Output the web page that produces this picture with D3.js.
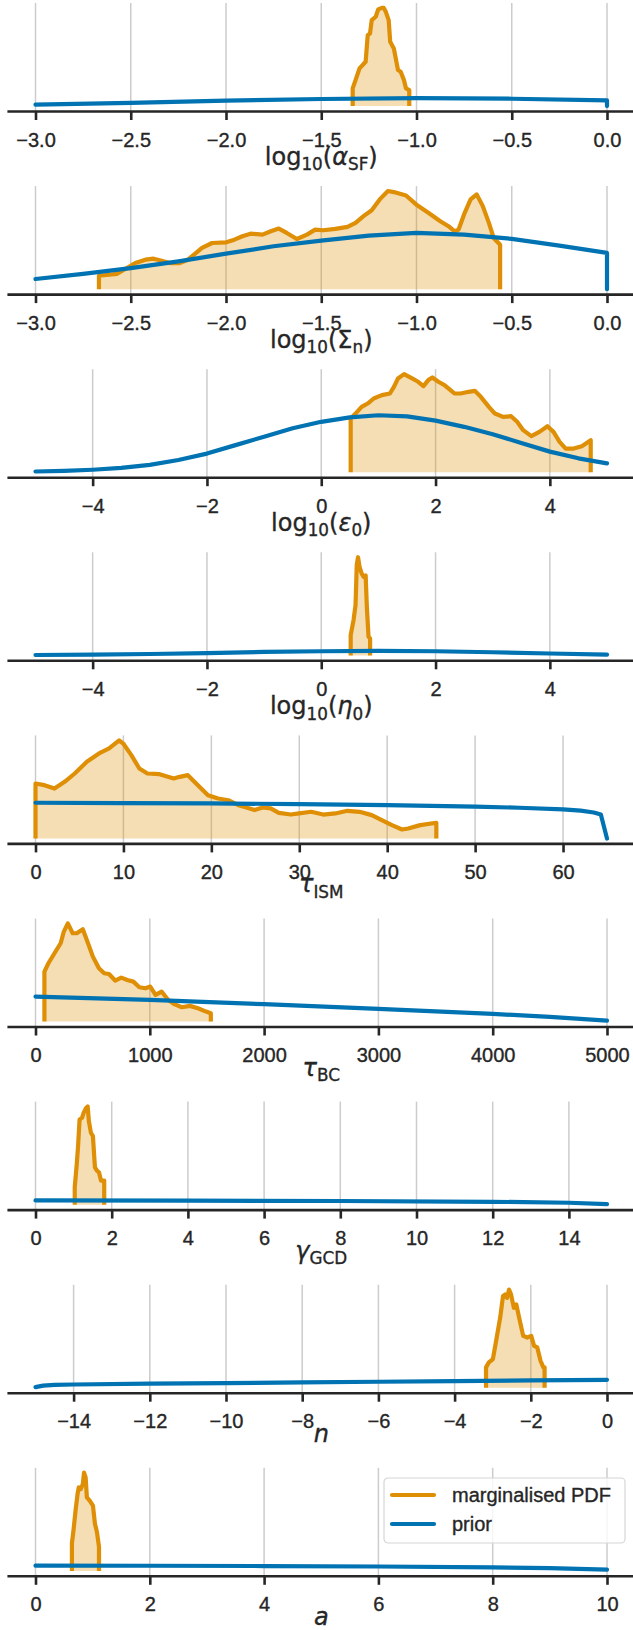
<!DOCTYPE html>
<html>
<head>
<meta charset="utf-8">
<script src="https://cdn.jsdelivr.net/npm/d3@7"></script>
<style>
  body { margin: 0; background: #fff; }
  svg { display: block; font-family: "Liberation Sans", Arial, sans-serif; }
  text { stroke: #262626; stroke-width: 0.35px; }
</style>
</head>
<body>
<svg id="chart" width="633" height="1630"></svg>
<script>
// ---- data: [parameter value, density] ----
var pdfAlphaSF = [[-1.335,0],[-1.335,0.18],[-1.320,0.265],[-1.299,0.384],[-1.267,0.452],[-1.256,0.723],[-1.244,0.74],
  [-1.235,0.876],[-1.214,0.91],[-1.201,0.985],[-1.182,1.0],[-1.172,1.0],[-1.161,0.96],[-1.146,0.876],[-1.138,0.655],
  [-1.119,0.587],[-1.097,0.367],[-1.083,0.35],[-1.066,0.265],[-1.055,0.18],[-1.038,0.163],[-1.038,0]];
var priorAlphaSF = [[-3,0.015],[-2.5,0.032],[-2,0.055],[-1.5,0.072],[-1,0.082],[-0.5,0.075],[0,0.058],[0,0]];

var pdfSigmaN = [[-2.667,0],[-2.667,0.136],[-2.614,0.146],[-2.571,0.156],[-2.529,0.204],[-2.476,0.265],[-2.423,0.299],
  [-2.380,0.309],[-2.338,0.289],[-2.296,0.265],[-2.243,0.265],[-2.200,0.299],[-2.168,0.35],[-2.126,0.418],[-2.073,0.468],
  [-1.999,0.475],[-1.956,0.502],[-1.914,0.536],[-1.871,0.563],[-1.808,0.553],[-1.765,0.587],[-1.723,0.614],[-1.681,0.57],
  [-1.628,0.509],[-1.575,0.553],[-1.532,0.604],[-1.490,0.597],[-1.426,0.611],[-1.362,0.631],[-1.320,0.672],[-1.278,0.74],
  [-1.235,0.80],[-1.193,0.91],[-1.150,0.995],[-1.119,0.984],[-1.055,0.95],[-1.002,0.859],[-0.938,0.774],[-0.875,0.689],
  [-0.832,0.638],[-0.800,0.587],[-0.779,0.604],[-0.747,0.774],[-0.716,0.91],[-0.684,0.961],[-0.652,0.842],[-0.620,0.672],
  [-0.595,0.519],[-0.561,0.45],[-0.561,0]];
var priorSigmaN = [[-3,0.103],[-2.75,0.156],[-2.5,0.214],[-2.25,0.282],[-2,0.36],[-1.75,0.435],[-1.5,0.492],[-1.25,0.543],
  [-1,0.57],[-0.75,0.553],[-0.5,0.51],[-0.25,0.441],[0,0.368],[0,0]];

var pdfEps0 = [[0.515,0],[0.515,0.547],[0.600,0.597],[0.706,0.665],[0.812,0.699],[0.918,0.75],[1.060,0.784],[1.201,0.801],
  [1.272,0.869],[1.343,0.954],[1.449,0.998],[1.590,0.954],[1.696,0.92],[1.788,0.876],[1.873,0.937],[1.944,0.964],[2.050,0.92],
  [2.156,0.886],[2.262,0.835],[2.332,0.801],[2.438,0.801],[2.580,0.818],[2.686,0.828],[2.792,0.767],[2.933,0.665],[3.039,0.597],
  [3.181,0.563],[3.322,0.57],[3.428,0.513],[3.534,0.428],[3.676,0.367],[3.817,0.411],[3.958,0.468],[4.064,0.411],[4.171,0.309],
  [4.277,0.241],[4.418,0.241],[4.559,0.265],[4.715,0.326],[4.715,0]];
var priorEps0 = [[-5,0.008],[-4.5,0.014],[-4,0.026],[-3.5,0.044],[-3,0.075],[-2.5,0.125],[-2,0.19],[-1.5,0.276],[-1,0.362],
  [-0.5,0.447],[0,0.513],[0.5,0.558],[1,0.58],[1.5,0.568],[2,0.525],[2.5,0.462],[3,0.387],[3.5,0.298],[4,0.21],[4.5,0.142],[5,0.09]];

var pdfEta0 = [[0.515,0],[0.515,0.207],[0.565,0.36],[0.600,0.513],[0.621,0.92],[0.643,1.0],[0.671,0.90],[0.706,0.835],
  [0.742,0.80],[0.777,0.815],[0.798,0.496],[0.827,0.19],[0.855,0.173],[0.855,0]];
var priorEta0 = [[-5,0.004],[-4,0.008],[-3,0.014],[-2,0.024],[-1,0.035],[0,0.042],[1,0.045],[2,0.042],[3,0.032],[4,0.019],[5,0.008]];

var pdfTauISM = [[0,0],[0,0.56],[1.02,0.543],[2.16,0.509],[3.31,0.577],[4.46,0.662],[5.84,0.781],[7.22,0.866],[8.37,0.917],
  [9.52,1.0],[9.98,0.967],[10.90,0.849],[11.81,0.713],[12.73,0.662],[14.11,0.655],[15.72,0.611],[16.41,0.628],[17.33,0.645],
  [18.47,0.543],[19.62,0.441],[20.77,0.407],[21.92,0.39],[23.07,0.339],[23.99,0.316],[24.91,0.289],[25.83,0.316],[26.75,0.306],
  [27.67,0.261],[29.05,0.244],[29.97,0.255],[31.35,0.272],[32.73,0.244],[34.10,0.255],[35.48,0.282],[36.86,0.272],[38.24,0.238],
  [39.39,0.187],[40.54,0.136],[41.69,0.092],[42.38,0.102],[43.76,0.136],[45.59,0.16],[45.59,0]];
var priorTauISM = [[0,0.364],[10,0.361],[20,0.357],[30,0.35],[40,0.34],[50,0.325],[55,0.313],[60,0.296],[62,0.283],
  [63.5,0.265],[64.3,0.245],[65,0]];

var pdfTauBC = [[78,0],[78,0.509],[113,0.594],[166,0.696],[220,0.798],[248,0.917],[283,1.0],[325,0.90],[361,0.90],[414,0.94],
  [449,0.832],[502,0.662],[555,0.543],[601,0.492],[643,0.485],[697,0.418],[750,0.448],[803,0.424],[856,0.407],[909,0.35],
  [962,0.339],[1004,0.357],[1050,0.272],[1103,0.306],[1156,0.227],[1209,0.18],[1280,0.146],[1351,0.16],[1421,0.136],
  [1492,0.102],[1534,0.085],[1534,0]];
var priorTauBC = [[0,0.255],[1000,0.221],[2000,0.177],[3000,0.129],[4000,0.078],[4500,0.048],[5000,0.01]];

var pdfGammaGCD = [[1.030,0],[1.030,0.18],[1.083,0.418],[1.115,0.587],[1.157,0.876],[1.221,0.893],[1.263,0.944],[1.327,0.995],
  [1.369,1.01],[1.401,0.859],[1.454,0.74],[1.507,0.706],[1.560,0.384],[1.613,0.35],[1.666,0.333],[1.719,0.248],[1.804,0.248],[1.804,0]];
var priorGammaGCD = [[0,0.044],[4,0.042],[8,0.038],[12,0.03],[14,0.02],[15,0.005]];

var pdfN = [[-3.175,0],[-3.175,0.21],[-3.10,0.261],[-2.995,0.295],[-2.91,0.482],[-2.804,0.72],[-2.73,0.94],[-2.677,0.957],
  [-2.624,0.923],[-2.571,1.008],[-2.518,0.957],[-2.444,0.821],[-2.38,0.855],[-2.306,0.72],[-2.20,0.533],[-2.094,0.516],
  [-1.988,0.533],[-1.914,0.431],[-1.83,0.414],[-1.745,0.278],[-1.67,0.21],[-1.638,0.21],[-1.638,0]];
var priorN = [[-15,0.007],[-14.8,0.022],[-14.5,0.03],[-14,0.034],[-12,0.042],[-10,0.048],[-8,0.055],[-6,0.062],[-4,0.069],
  [-2,0.076],[0,0.082]];

var pdfA = [[0.637,0],[0.637,0.282],[0.665,0.418],[0.701,0.621],[0.736,0.791],[0.757,0.859],[0.793,0.842],[0.828,0.893],
  [0.849,1.01],[0.877,0.961],[0.899,0.757],[0.948,0.723],[1.005,0.672],[1.040,0.485],[1.075,0.40],[1.111,0.248],[1.111,0]];
var priorA = [[0,0.054],[2,0.053],[4,0.05],[6,0.045],[8,0.036],[9,0.028],[10,0.012]];

// x ranges and tick values
var domains = [[-3, 0], [-3, 0], [-5, 5], [-5, 5], [0, 65], [0, 5000], [0, 15], [-15, 0], [0, 10]];
var ticks = [
  [-3, -2.5, -2, -1.5, -1, -0.5, 0],
  [-3, -2.5, -2, -1.5, -1, -0.5, 0],
  [-4, -2, 0, 2, 4],
  [-4, -2, 0, 2, 4],
  [0, 10, 20, 30, 40, 50, 60],
  [0, 1000, 2000, 3000, 4000, 5000],
  [0, 2, 4, 6, 8, 10, 12, 14],
  [-14, -12, -10, -8, -6, -4, -2, 0],
  [0, 2, 4, 6, 8, 10]
];
var tickFormats = [".1f", ".1f", "d", "d", "d", "d", "d", "d", "d"];

// axis labels: [text, kind]  kind: "" upright, "it" italic, "sub" subscript
var labels = [
  [["log", ""], ["10", "sub"], ["(", ""], ["α", "it"], ["SF", "sub"], [")", ""]],
  [["log", ""], ["10", "sub"], ["(", ""], ["Σ", ""], ["n", "sub"], [")", ""]],
  [["log", ""], ["10", "sub"], ["(", ""], ["ε", "it"], ["0", "sub"], [")", ""]],
  [["log", ""], ["10", "sub"], ["(", ""], ["η", "it"], ["0", "sub"], [")", ""]],
  [["τ", "it"], ["ISM", "sub"]],
  [["τ", "it"], ["BC", "sub"]],
  [["γ", "it"], ["GCD", "sub"]],
  [["n", "it"]],
  [["a", "it"]]
];
var legendNames = ["marginalised PDF", "prior"];

var pdfs = [pdfAlphaSF, pdfSigmaN, pdfEps0, pdfEta0, pdfTauISM, pdfTauBC, pdfGammaGCD, pdfN, pdfA];
var priors = [priorAlphaSF, priorSigmaN, priorEps0, priorEta0, priorTauISM, priorTauBC, priorGammaGCD, priorN, priorA];

// ---- layout ----
var orange = "#de8f05", blue = "#0173b2", ink = "#262626";
var axis0 = 111, step = 183.1, plotH = 108;
var xLeft = 35.5, xRight = 607;   // where the data range lands
var svg = d3.select("svg#chart");

pdfs.forEach(function (pdf, i) {
    var axisY = axis0 + i * step,
        lo = domains[i][0], hi = domains[i][1], pad = (hi - lo) * 0.05,
        padPx = (xRight - xLeft) * 0.05;

    var x = d3.scaleLinear()
        .domain([lo - pad, hi + pad])
        .range([xLeft - padPx, xRight + padPx]);

    var ymax = d3.max(pdf.concat(priors[i]), function (d) { return d[1]; });
    var y = d3.scaleLinear()
        .domain([-0.05 * ymax, 1.05 * ymax])
        .range([axisY, axisY - plotH]);

    var g = svg.append("g");

    // vertical grid
    g.selectAll(".grid")
        .data(ticks[i])
        .enter().append("line")
        .attr("class", "grid")
        .attr("x1", function (d) { return x(d); })
        .attr("x2", function (d) { return x(d); })
        .attr("y1", axisY - plotH)
        .attr("y2", axisY)
        .attr("stroke", "#cccccc")
        .attr("stroke-width", 1.5);

    var area = d3.area()
        .x(function (d) { return x(d[0]); })
        .y0(y(0))
        .y1(function (d) { return y(d[1]); });

    var line = d3.line()
        .x(function (d) { return x(d[0]); })
        .y(function (d) { return y(d[1]); });

    g.append("path")
        .datum(pdf)
        .attr("d", area)
        .attr("fill", orange)
        .attr("fill-opacity", 0.3);

    g.append("path")
        .datum(pdf)
        .attr("d", line)
        .attr("fill", "none")
        .attr("stroke", orange)
        .attr("stroke-width", 4.2)
        .attr("stroke-linejoin", "round");

    g.append("path")
        .datum(priors[i])
        .attr("d", line)
        .attr("fill", "none")
        .attr("stroke", blue)
        .attr("stroke-width", 4.2)
        .attr("stroke-linejoin", "round")
        .attr("stroke-linecap", "round");

    var ax = g.append("g")
        .attr("transform", "translate(0," + axisY + ")")
        .call(d3.axisBottom(x)
            .tickValues(ticks[i])
            .tickFormat(d3.format(tickFormats[i]))
            .tickSizeInner(9)
            .tickSizeOuter(0)
            .tickPadding(12.3));

    ax.select(".domain").attr("stroke", ink).attr("stroke-width", 2.6);
    ax.selectAll(".tick line").attr("stroke", ink).attr("stroke-width", 2.6);
    ax.selectAll(".tick text")
        .attr("fill", ink)
        .style("font", "20px 'Liberation Sans'");

    // x label
    var isLog = labels[i][0][0] === "log";
    var fs = 24, sub = 0.22 * fs;
    var txt = g.append("text")
        .attr("x", (x.range()[0] + x.range()[1]) / 2)
        .attr("y", axisY + (isLog ? 54 : 49))
        .attr("text-anchor", "middle")
        .attr("fill", ink)
        .style("font-size", fs + "px")
        .style("font-family", "'DejaVu Sans'");

    var shifted = false;
    labels[i].forEach(function (seg) {
        var t = txt.append("tspan").text(seg[0]);
        if (seg[1] === "sub") {
            t.style("font-size", (0.7 * fs) + "px").attr("dy", shifted ? 0 : sub);
            shifted = true;
        } else {
            t.attr("dy", shifted ? -sub : 0);
            shifted = false;
            if (seg[1] === "it") t.style("font-style", "italic");
        }
    });
});

// legend in the last panel
var leg = svg.append("g").attr("transform", "translate(384,1478)");
leg.append("rect")
    .attr("width", 241)
    .attr("height", 65)
    .attr("rx", 4)
    .attr("fill", "#ffffff")
    .attr("fill-opacity", 0.8)
    .attr("stroke", "#d6d6d6")
    .attr("stroke-width", 1.2);

var items = leg.selectAll(".item")
    .data(legendNames)
    .enter().append("g")
    .attr("class", "item")
    .attr("transform", function (d, k) { return "translate(0," + (17 + k * 29) + ")"; });

items.append("line")
    .attr("x1", 8)
    .attr("x2", 50)
    .attr("stroke", function (d, k) { return k === 0 ? orange : blue; })
    .attr("stroke-width", 4.2)
    .attr("stroke-linecap", "round");

items.append("text")
    .attr("x", 68)
    .attr("dy", "0.36em")
    .attr("fill", ink)
    .style("font", "20px 'Liberation Sans'")
    .text(function (d) { return d; });
</script>
</body>
</html>
